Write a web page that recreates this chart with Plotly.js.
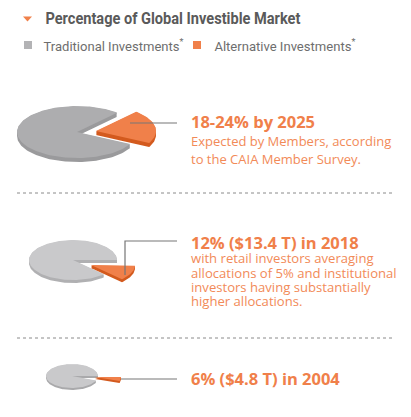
<!DOCTYPE html>
<html>
<head>
<meta charset="utf-8">
<script src="https://cdn.plot.ly/plotly-3.0.1.min.js"></script>
<style>html,body{margin:0;padding:0;background:#fff;}#chart{width:411px;height:417px;}</style>
</head>
<body>
<div id="chart"></div>
<script>
// ---- data ----
const years = ['2025', '2018', '2004'];
const altShare = [21, 12, 6];              // Alternative Investments, % of global investible market
const tradShare = altShare.map(v => 100 - v); // Traditional Investments
const seriesNames = ['Traditional Investments*', 'Alternative Investments*'];
const headlines = ['18-24% by 2025', '12% ($13.4 T) in 2018', '6% ($4.8 T) in 2004'];
const descriptions = [
  ['Expected by Members, according', 'to the CAIA Member Survey.'],
  ['with retail investors averaging', 'allocations of 5% and institutional', 'investors having substantially', 'higher allocations.'],
  []
];
const chartTitle = 'Percentage of Global Investible Market';

// ---- layout / style config ----
const W = 411, H = 417;
const ORANGE = '#f0804a', ORANGE_SIDE = '#d35a1e';
const pies = [
  {cx: 77, cy: 132, rx: 60, ry: 26, d: 4, end: 48, ox: 19, oy: -1, gray: '#adadaf', graySide: '#9a9a9c'},
  {cx: 73, cy: 260, rx: 44, ry: 20, d: 3, end: -2, ox: 18, oy: 5, gray: '#c9c9cb', graySide: '#b0b0b2'},
  {cx: 72, cy: 376, rx: 26, ry: 12, d: 2, end: 0, ox: 23, oy: 1, gray: '#c9c9cb', graySide: '#a9a9ab'}
];
const textX = 189;
const textRows = [
  {head: 121, lines: [141, 159], size: 13},
  {head: 242, lines: [258, 273, 287, 301], size: 13.1},
  {head: 378, lines: [], size: 13}
];
const leaders = [
  [[130, 123], [177, 123]],
  [[125, 275], [125, 241], [177, 241]],
  [[121, 379], [177, 379]]
];
const separators = [193, 338];
// condensed header texts: [left, width]
const condensed = [
  {left: 45, width: 255, y: 18, size: 16, color: '#5a5a5a'},
  {left: 43, width: 140, y: 45, size: 13.5, color: '#6e6e6e'},
  {left: 214, width: 141, y: 45, size: 13.5, color: '#6e6e6e'}
];

function slicePoly(p, a0, a1, cx, cy) {
  const xs = [cx], ys = [cy];
  const n = Math.max(8, Math.ceil((a1 - a0) / 2));
  for (let i = 0; i <= n; i++) {
    const t = (a0 + (a1 - a0) * i / n) * Math.PI / 180;
    xs.push(cx + p.rx * Math.cos(t));
    ys.push(cy - p.ry * Math.sin(t));
  }
  xs.push(cx); ys.push(cy);
  return [xs, ys];
}
function extruded(xs, ys, d) {
  const X = [], Y = [];
  for (let k = 1; k <= d * 2; k++) {
    const off = k * 0.5;
    xs.forEach((x, i) => { X.push(x); Y.push(ys[i] + off); });
    X.push(null); Y.push(null);
  }
  return [X, Y];
}
function poly(xs, ys, color, name) {
  return {type: 'scatter', mode: 'lines', x: xs, y: ys, fill: 'toself', fillcolor: color,
          line: {width: 0, color: color}, hoverinfo: 'skip', showlegend: false, name: name,
          connectgaps: false, xaxis: 'x', yaxis: 'y'};
}

const traces = [];
pies.forEach((p, i) => {
  const altSpan = altShare[i] * 3.6;
  const tradSpan = tradShare[i] * 3.6;
  const altStart = p.end - altSpan;
  const [gx, gy] = slicePoly(p, p.end, p.end + tradSpan, p.cx, p.cy);
  const [ax, ay] = slicePoly(p, altStart, p.end, p.cx + p.ox, p.cy + p.oy);
  const [gsx, gsy] = extruded(gx, gy, p.d);
  const [asx, asy] = extruded(ax, ay, p.d);
  traces.push(poly(gsx, gsy, p.graySide, seriesNames[0] + ' ' + years[i]));
  traces.push(poly(gx, gy, p.gray, seriesNames[0] + ' ' + years[i]));
  traces.push(poly(asx, asy, ORANGE_SIDE, seriesNames[1] + ' ' + years[i]));
  traces.push(poly(ax, ay, ORANGE, seriesNames[1] + ' ' + years[i]));
});

const shapes = [];
const annotations = [];
const headerTexts = ['<b>' + chartTitle + '</b>',
  seriesNames[0].replace('*', '<sup>*</sup>'),
  seriesNames[1].replace('*', '<sup>*</sup>')];
condensed.forEach((c, i) => {
  annotations.push({xref: 'x', yref: 'y', x: c.left + c.width / 2, y: c.y, xanchor: 'center', yanchor: 'middle', showarrow: false,
    text: headerTexts[i], font: {family: 'Roboto', size: c.size, color: c.color}});
});
// header icon
shapes.push({type: 'path', xref: 'x', yref: 'y', path: 'M 23 16.5 L 32 16.5 L 27.5 21.5 Z', fillcolor: ORANGE, line: {width: 0}});
// legend squares
[{x: 24, color: '#b3b3b5'}, {x: 193, color: ORANGE}].forEach(li => {
  shapes.push({type: 'rect', xref: 'x', yref: 'y', x0: li.x, x1: li.x + 8, y0: 41, y1: 49, fillcolor: li.color, line: {width: 0}});
});
// separators
separators.forEach(y => shapes.push({type: 'line', xref: 'x', yref: 'y', x0: 17, x1: 392, y0: y, y1: y,
  line: {color: '#8a8a8a', width: 1, dash: 'dot'}}));
// leader lines
leaders.forEach(pts => {
  const path = pts.map((pt, j) => (j ? 'L ' : 'M ') + pt[0] + ' ' + pt[1]).join(' ');
  shapes.push({type: 'path', xref: 'x', yref: 'y', path: path, line: {color: '#767676', width: 1.2}});
});
// texts
headlines.forEach((h, i) => {
  annotations.push({xref: 'x', yref: 'y', x: textX, y: textRows[i].head, xanchor: 'left', yanchor: 'middle', showarrow: false,
    text: '<b>' + h + '</b>', font: {family: 'Open Sans', size: 16.5, color: ORANGE}});
  descriptions[i].forEach((line, j) => {
    annotations.push({xref: 'x', yref: 'y', x: textX, y: textRows[i].lines[j], xanchor: 'left', yanchor: 'middle', showarrow: false,
      text: line, font: {family: 'Open Sans', size: textRows[i].size, color: '#f28a58'}});
  });
});

const layout = {
  width: W, height: H,
  margin: {l: 0, r: 0, t: 0, b: 0},
  paper_bgcolor: '#ffffff', plot_bgcolor: '#ffffff',
  xaxis: {range: [0, W], visible: false, fixedrange: true},
  yaxis: {range: [H, 0], visible: false, fixedrange: true},
  showlegend: false,
  shapes: shapes,
  annotations: annotations
};
Plotly.newPlot('chart', traces, layout, {staticPlot: true, displayModeBar: false}).then(() => {
  // emulate the condensed typeface of the header by squeezing the glyphs to the reference widths
  condensed.forEach((c, i) => {
    const t = document.querySelector('g.annotation[data-index="' + i + '"] text.annotation-text');
    if (t) {
      t.setAttribute('textLength', c.width);
      t.setAttribute('lengthAdjust', 'spacingAndGlyphs');
    }
  });
});
</script>
</body>
</html>
